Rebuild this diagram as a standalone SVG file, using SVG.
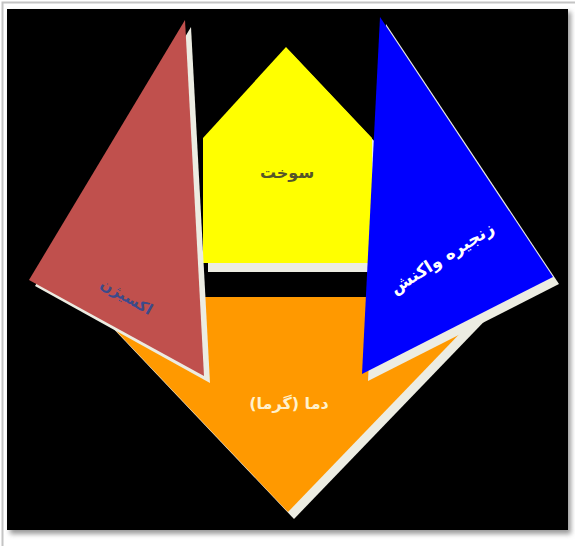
<svg xmlns="http://www.w3.org/2000/svg" width="575" height="546" viewBox="0 0 575 546">
<defs>
<style>
.sh{fill:#ECECE2}
.lbl{font-family:"DejaVu Sans",sans-serif;font-weight:bold;text-anchor:middle}
</style>
<filter id="blur" x="-5%" y="-5%" width="110%" height="110%"><feGaussianBlur stdDeviation="2.5"/></filter>
</defs>
<rect x="0" y="0" width="575" height="546" fill="#ffffff"/>
<path d="M2.5 546 V2.5 H575" fill="none" stroke="#c4c4c4" stroke-width="2"/>
<rect x="10" y="12" width="561" height="522" fill="#9a9a9a" filter="url(#blur)"/>
<rect x="7" y="9" width="561" height="521" fill="#000000"/>
<g id="orange">
<polygon class="sh" points="90,304 501,304 294,519"/>
<polygon points="84,297 495,297 288,512" fill="#FF9900"/>
<text class="lbl" x="289" y="409" font-size="16" fill="#FFF1CC">دما (گرما)</text>
</g>
<g id="yellow">
<polygon class="sh" points="208,145 292,54 378,145 378,272 208,272"/>
<polygon points="203,138 286,47 372,138 372,263 203,263" fill="#FFFF00"/>
<text class="lbl" x="287" y="178" font-size="16" fill="#55552A">سوخت</text>
</g>
<g id="red">
<polygon class="sh" points="191,27 35,286 210,383"/>
<polygon points="185,20 29,280 204,376" fill="#C0504D"/>
<text class="lbl" x="0" y="0" font-size="15" fill="#3C4A8A" transform="translate(124,301) rotate(30)">اکسیژن</text>
</g>
<g id="blue">
<polygon class="sh" points="386,24 559,284 368,381"/>
<polygon points="380,17 553,277 362,374" fill="#0000FF"/>
<text class="lbl" x="0" y="0" font-size="17" fill="#FFFFFF" transform="translate(445,263) rotate(-32)">زنجیره واکنش</text>
</g>
<g id="connectors"/>
</svg>
